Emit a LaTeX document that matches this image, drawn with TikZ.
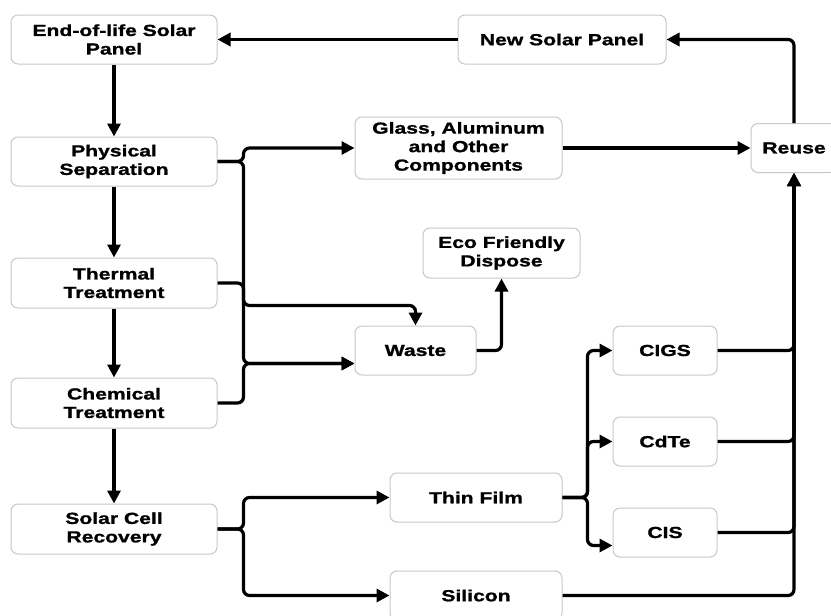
\documentclass[tikz,border=0pt]{standalone}
\usepackage{fontspec}
\newfontfamily\boxfont{Liberation Sans}[FakeStretch=1.32,FakeBold=1.2]
\usetikzlibrary{arrows.meta}
\definecolor{boxgray}{RGB}{200,200,200}
\begin{document}
\begin{tikzpicture}[x=1pt,y=-1pt,
  box/.style={draw=boxgray, line width=1pt, rounded corners=7pt, fill=white,
    align=center, inner sep=0pt,
    font=\boxfont\bfseries\fontsize{16}{18.5}\selectfont},
  conn/.style={line width=3.2pt, rounded corners=6pt,
    -{Triangle[length=13pt,width=13pt]}},
  wire/.style={line width=3.2pt, rounded corners=6pt}]
\fill[white] (0,0) rectangle (831,616);
\useasboundingbox (0,0) rectangle (831,616);

% left column
\node[box, minimum width=206pt, minimum height=49pt] (eol) at (114,39.5) {End-of-life Solar\\Panel};
\node[box, minimum width=206pt, minimum height=49pt] (ps)  at (114,161.5) {Physical\\Separation};
\node[box, minimum width=206pt, minimum height=50pt] (tt)  at (114,283) {Thermal\\Treatment};
\node[box, minimum width=206pt, minimum height=50pt] (ct)  at (114,403) {Chemical\\Treatment};
\node[box, minimum width=206pt, minimum height=50pt] (scr) at (114,529) {Solar Cell\\Recovery};

% middle
\node[box, minimum width=207pt, minimum height=62pt] (glass) at (458.5,148) {Glass, Aluminum\\and Other\\Components};
\node[box, minimum width=208pt, minimum height=49pt] (nsp) at (562,39.5) {New Solar Panel};
\node[box, minimum width=157pt, minimum height=50pt] (eco) at (501.5,253) {Eco Friendly\\Dispose};
\node[box, minimum width=121pt, minimum height=49pt] (waste) at (415.5,350.5) {Waste};
\node[box, minimum width=172pt, minimum height=49pt] (tf) at (476,497.5) {Thin Film};
\node[box, minimum width=172pt, minimum height=49pt] (si) at (476,595.5) {Silicon};

% right
\node[box, minimum width=86pt, minimum height=49pt] (reuse) at (794,148) {Reuse};
\node[box, minimum width=104pt, minimum height=49pt] (cigs) at (665,350.5) {CIGS};
\node[box, minimum width=104pt, minimum height=49pt] (cdte) at (665,441.5) {CdTe};
\node[box, minimum width=104pt, minimum height=49pt] (cis) at (665,532.5) {CIS};

% main column
\draw[conn] (eol.south) -- (ps.north);
\draw[conn] (ps.south) -- (tt.north);
\draw[conn] (tt.south) -- (ct.north);
\draw[conn] (ct.south) -- (scr.north);

% top loop
\draw[conn] (nsp.west) -- (eol.east);
\draw[conn] (reuse.north) |- (nsp.east);
\draw[conn] (glass.east) -- (reuse.west);

% separation bus
\draw[conn] (ps.east) -- ++(26,0) |- (glass.west);
\draw[conn] (ps.east) -- ++(26,0) |- ([yshift=20pt]waste.north) -- (waste.north);
\draw[conn] (tt.east) -- ++(26,0) |- ([yshift=-13pt]waste.west);
\draw[conn] (ct.east) -- ++(26,0) |- ([yshift=-13pt]waste.west);
\draw[conn] (waste.east) -| (eco.south);

% recovery
\draw[conn] (scr.east) -- ++(26,0) |- (tf.west);
\draw[conn] (scr.east) -- ++(26,0) |- (si.west);
\draw[conn] (tf.east) -- ++(25,0) |- (cigs.west);
\draw[conn] (tf.east) -- ++(25,0) |- (cdte.west);
\draw[conn] (tf.east) -- ++(25,0) |- ([yshift=-13pt]cis.west);

% to reuse
\draw[conn] (cigs.east) -| (reuse.south);
\draw[conn] (cdte.east) -| (reuse.south);
\draw[conn] (cis.east) -| (reuse.south);
\draw[conn] (si.east) -| (reuse.south);
\end{tikzpicture}
\end{document}
